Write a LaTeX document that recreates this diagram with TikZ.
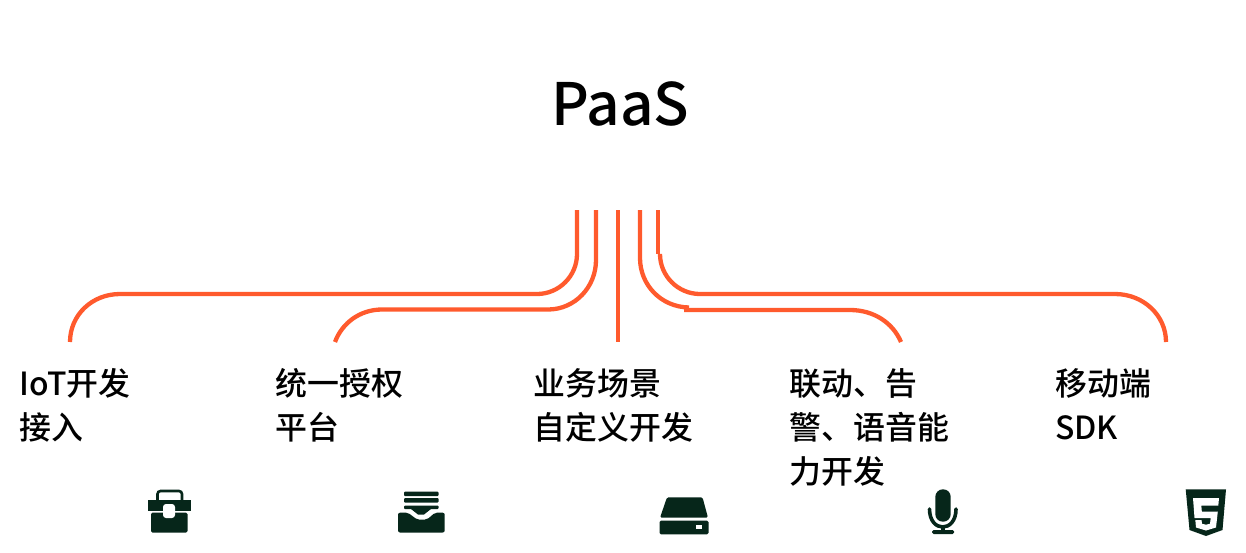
\documentclass[tikz,border=0pt]{standalone}
\usepackage{fontspec}
\setmainfont{Noto Sans CJK SC Medium}
\definecolor{wire}{HTML}{FF5A2D}
\definecolor{icon}{HTML}{06261A}
\tikzset{
  wireline/.style={draw=wire,line width=4.3pt},
  lbl/.style={anchor=base west,inner sep=0pt,font=\fontsize{31.9}{44}\selectfont,align=left},
  ic/.style={fill=icon,draw=none}
}
\begin{document}
\begin{tikzpicture}[x=1pt,y=-1pt]
\useasboundingbox (0,0) rectangle (1246,552);
\node[anchor=base west,inner sep=0pt,font=\fontsize{58.5}{60}\selectfont] (title) at (551,125.5) {PaaS};
\node[lbl] (t1) at (19.5,395) {IoT开发};
\node[lbl] (t1b) at (19.5,439) {接入};
\node[lbl] (t2) at (275.5,395) {统一授权};
\node[lbl] (t2b) at (275.5,439) {平台};
\node[lbl] (t3) at (533.5,395) {业务场景};
\node[lbl] (t3b) at (533.5,439) {自定义开发};
\node[lbl] (t4) at (789.5,395) {联动、告};
\node[lbl] (t4b) at (789.5,439) {警、语音能};
\node[lbl] (t4c) at (789.5,483) {力开发};
\node[lbl] (t5) at (1055,395) {移动端};
\node[lbl] (t5b) at (1055,439) {SDK};
% connector ends
\coordinate (a1) at (577,210); \coordinate (b1) at (70,342);
\coordinate (a2) at (596,210); \coordinate (b2) at (335,342);
\coordinate (a3) at (618,210); \coordinate (b3) at (618,342);
\coordinate (a4) at (640,210); \coordinate (b4) at (901,342);
\coordinate (a5) at (658,210); \coordinate (b5) at (1166,342);
\draw[wireline] (a1) -- (577,254) .. controls (577,276) and (559,294) .. (537,294) -- (120,294) .. controls (92,294) and (70,315) .. (b1);
\draw[wireline] (a2) -- (596,260) .. controls (596,287) and (575,309.5) .. (548,309.5) -- (382,309.5) .. controls (360,309.5) and (342,323) .. (b2);
\draw[wireline] (a3) -- (b3);
\draw[wireline] (a4) -- (640,258) .. controls (640,285) and (661,307) .. (689,307.5);
\draw[wireline] (684,310) -- (850,310) .. controls (874,310) and (893,323) .. (b4);
\draw[wireline] (a5) -- (658,254);
\draw[wireline] (660,254) .. controls (660,276) and (678,294) .. (700,294) -- (1115,294) .. controls (1143,294) and (1166,315) .. (b5);
% toolbox
\draw[icon,line width=2.6pt,rounded corners=3pt] (157.5,501) -- (157.5,491) -- (182,491) -- (182,501);
\fill[ic] (147.5,500) rectangle (191,511);
\fill[ic,rounded corners=1.5pt] (151,512.5) rectangle (187.5,532.5);
\fill[white,rounded corners=3pt] (163,504) rectangle (175,518);
% inbox
\fill[ic,rounded corners=1pt] (404,491.7) rectangle (438.7,496);
\fill[ic,rounded corners=1pt] (404,498) rectangle (438.7,502.5);
\fill[ic,rounded corners=1pt] (404,505.5) rectangle (438.7,509);
\fill[ic] (411,509) -- (431,509) -- (424,514.5) -- (418,514.5) -- cycle;
\fill[ic,rounded corners=2pt] (398,512.7) -- (408,512.7) -- (417,519.5) -- (427,519.5) -- (435,512.7) -- (444.7,512.7) -- (444.7,532.5) -- (398,532.5) -- cycle;
% disk
\fill[ic,rounded corners=1.5pt] (667,497.3) -- (702.5,497.3) -- (708,517.7) -- (660,517.7) -- cycle;
\fill[ic,rounded corners=1.5pt] (659.5,520.7) rectangle (708.5,534.3);
\fill[white] (696,525) rectangle (702.3,528.7);
% mic
\fill[ic,rounded corners=7.5pt] (935.3,489.3) rectangle (950.7,521.7);
\draw[icon,line width=3.6pt,line cap=round] (929.5,509) .. controls (929.5,533) and (956,533) .. (956,509);
\fill[ic] (941.2,526) rectangle (944.8,532);
\fill[ic,rounded corners=1.5pt] (932,530) rectangle (954,534);
% html5
\fill[ic] (1185.7,489.3) -- (1226,489.3) -- (1222.5,530) -- (1206,536) -- (1189.5,530) -- cycle;
\fill[white] (1193,498) -- (1219,498) -- (1218.3,505.5) -- (1201.3,505.5) -- (1201.8,511.5) -- (1217.8,511.5) -- (1216,527.5) -- (1206,530.5) -- (1196,527.5) -- (1195.3,520) -- (1201.5,520) -- (1202,523.7) -- (1206,524.7) -- (1210,523.7) -- (1210.7,518) -- (1194.5,518) -- cycle;
\end{tikzpicture}
\end{document}
